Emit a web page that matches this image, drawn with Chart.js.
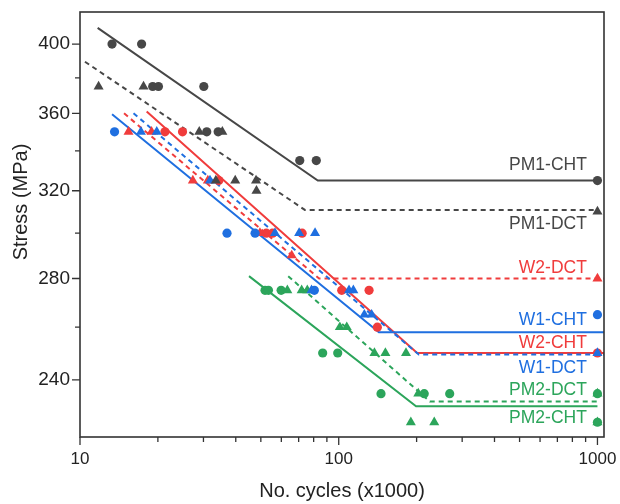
<!DOCTYPE html>
<html><head><meta charset="utf-8">
<script src="https://cdn.jsdelivr.net/npm/chart.js@4.4.1/dist/chart.umd.min.js"></script>
<style>html,body{margin:0;padding:0;background:#fff}#wrap{width:620px;height:504px;position:relative}</style>
</head><body><div id="wrap"><canvas id="c"></canvas></div>
<script>
// ---- tick values ----
const xMajorTicks = [10, 100, 1000];
const xMinorTicks = [20, 30, 40, 50, 60, 70, 80, 90, 200, 300, 400, 500, 600, 700, 800, 900];
const yMajorTicks = [240, 280, 320, 360, 400];
const yMinorTicks = [260, 300, 340, 380];

// ---- measured points: cycles (x1000) and stress (MPa) ----
const pm1ChtCycles = [13.3, 17.3, 19.1, 20.1, 30.1, 30.9, 34.2, 70.7, 81.9, 1000];
const pm1ChtStress = [400, 400, 375, 375, 375, 350, 350, 335, 335, 325];
const pm1DctCycles = [11.8, 17.6, 28.9, 35.5, 33.5, 39.8, 47.9, 48.1, 1000];
const pm1DctStress = [375, 375, 350, 350, 325, 325, 325, 320, 310];
const w1ChtCycles = [13.6, 37.0, 47.5, 80.5, 1000];
const w1ChtStress = [350, 300, 300, 275, 265];
const w1DctCycles = [17.2, 19.8, 31.8, 56.7, 70.3, 81.0, 78.5, 109.6, 113.9, 125.6, 134, 1000];
const w1DctStress = [350, 350, 325, 300, 300, 300, 275, 275, 275, 265, 265, 250];
const w2ChtCycles = [21.3, 24.9, 34.4, 52.5, 55.5, 72.2, 102.7, 131, 141, 1000];
const w2ChtStress = [350, 350, 325, 300, 300, 300, 275, 275, 260, 250];
const w2DctCycles = [15.4, 18.9, 27.3, 31.2, 49.6, 65.8, 1000];
const w2DctStress = [350, 350, 325, 325, 300, 290, 280];
const pm2ChtCycles = [51.9, 53.5, 59.9, 86.7, 99.1, 145.7, 214, 268.5, 1000, 1000];
const pm2ChtStress = [275, 275, 275, 250, 250, 235, 235, 235, 235, 225];
const pm2DctCycles = [63.3, 71.9, 75.6, 101, 107.4, 137.4, 151.5, 182, 203, 190, 234, 1000, 1000];
const pm2DctStress = [275, 275, 275, 260, 260, 250, 250, 250, 235, 225, 225, 235, 225];

// ---- fitted S-N curves (start, knee, end) ----
const pm1ChtFitCycles = [11.7, 83, 1000];
const pm1ChtFitStress = [410, 325, 325];
const pm1DctFitCycles = [10.45, 74, 1000];
const pm1DctFitStress = [389.4, 310.8, 310.8];
const w1ChtFitCycles = [13.3, 143, 1060];
const w1ChtFitStress = [359.5, 258, 258];
const w1DctFitCycles = [16.1, 204, 1060];
const w1DctFitStress = [360, 249.4, 249.4];
const w2ChtFitCycles = [18.1, 201, 1060];
const w2ChtFitStress = [361, 250, 250];
const w2DctFitCycles = [14.8, 84, 1060];
const w2DctFitStress = [360, 280, 280];
const pm2ChtFitCycles = [45, 199, 1000];
const pm2ChtFitStress = [281, 230.5, 230.5];
const pm2DctFitCycles = [63.8, 225, 1000];
const pm2DctFitStress = [281, 232.2, 232.2];

// ---- curve labels ----
const curveNames = ['PM1-CHT', 'PM1-DCT', 'W2-DCT', 'W1-CHT', 'W2-CHT', 'W1-DCT', 'PM2-DCT', 'PM2-CHT'];
const curveLabelStress = [332.9, 304.2, 284.6, 262.8, 253.7, 244.3, 236.4, 226.4];
const curveLabelCycles = 910;

const DARK = '#474747', RED = '#f03c3c', BLUE = '#1f6fe0', GREEN = '#2ca55b';
const curveColors = [DARK, DARK, RED, BLUE, RED, BLUE, GREEN, GREEN];
const FONT = '"Liberation Sans", Arial, sans-serif';

const toXY = (xs, ys) => xs.map((x, i) => ({x: x, y: ys[i]}));

function pts(label, xs, ys, color, style) {
  return {label, data: toXY(xs, ys), showLine: false, order: 0,
    pointStyle: style, pointRadius: style === 'triangle' ? 5.8 : 4.6,
    pointBackgroundColor: color, pointBorderColor: color, pointBorderWidth: 0};
}
function fit(label, xs, ys, color, dashed) {
  return {label, data: toXY(xs, ys), showLine: true, order: 10, pointRadius: 0,
    borderColor: color, borderWidth: 2, borderDash: dashed ? [5, 4] : [], fill: false, tension: 0};
}

const datasets = [
  fit('PM1-CHT fit', pm1ChtFitCycles, pm1ChtFitStress, DARK, false),
  fit('PM1-DCT fit', pm1DctFitCycles, pm1DctFitStress, DARK, true),
  fit('W1-CHT fit', w1ChtFitCycles, w1ChtFitStress, BLUE, false),
  fit('W1-DCT fit', w1DctFitCycles, w1DctFitStress, BLUE, true),
  fit('W2-CHT fit', w2ChtFitCycles, w2ChtFitStress, RED, false),
  fit('W2-DCT fit', w2DctFitCycles, w2DctFitStress, RED, true),
  fit('PM2-CHT fit', pm2ChtFitCycles, pm2ChtFitStress, GREEN, false),
  fit('PM2-DCT fit', pm2DctFitCycles, pm2DctFitStress, GREEN, true),
  pts('PM1-CHT', pm1ChtCycles, pm1ChtStress, DARK, 'circle'),
  pts('PM1-DCT', pm1DctCycles, pm1DctStress, DARK, 'triangle'),
  pts('W1-DCT', w1DctCycles, w1DctStress, BLUE, 'triangle'),
  pts('W1-CHT', w1ChtCycles, w1ChtStress, BLUE, 'circle'),
  pts('W2-DCT', w2DctCycles, w2DctStress, RED, 'triangle'),
  pts('W2-CHT', w2ChtCycles, w2ChtStress, RED, 'circle'),
  pts('PM2-DCT', pm2DctCycles, pm2DctStress, GREEN, 'triangle'),
  pts('PM2-CHT', pm2ChtCycles, pm2ChtStress, GREEN, 'circle')
];

const framePlugin = {
  id: 'frame',
  afterDraw(chart) {
    const {ctx, chartArea: a, scales: {x, y}} = chart;
    ctx.save();
    ctx.strokeStyle = '#333';
    ctx.lineWidth = 1.6;
    ctx.strokeRect(a.left, a.top, a.right - a.left, a.bottom - a.top);
    ctx.lineWidth = 1.3;
    ctx.beginPath();
    xMajorTicks.forEach(v => { const p = x.getPixelForValue(v); ctx.moveTo(p, a.bottom); ctx.lineTo(p, a.bottom + 8); });
    xMinorTicks.forEach(v => { const p = x.getPixelForValue(v); ctx.moveTo(p, a.bottom); ctx.lineTo(p, a.bottom + 5); });
    yMajorTicks.forEach(v => { const p = y.getPixelForValue(v); ctx.moveTo(a.left, p); ctx.lineTo(a.left - 8, p); });
    yMinorTicks.forEach(v => { const p = y.getPixelForValue(v); ctx.moveTo(a.left, p); ctx.lineTo(a.left - 5, p); });
    ctx.stroke();
    // curve labels
    ctx.font = '17.5px ' + FONT;
    ctx.textAlign = 'right';
    ctx.textBaseline = 'middle';
    const lx = x.getPixelForValue(curveLabelCycles);
    curveNames.forEach((n, i) => {
      ctx.fillStyle = curveColors[i];
      ctx.fillText(n, lx, y.getPixelForValue(curveLabelStress[i]));
    });
    // y axis title (sits above the axis centre in the reference)
    ctx.save();
    ctx.translate(21, 202);
    ctx.rotate(-Math.PI / 2);
    ctx.font = '20px ' + FONT;
    ctx.fillStyle = '#222';
    ctx.textAlign = 'center';
    ctx.fillText('Stress (MPa)', 0, 0);
    ctx.restore();
    ctx.restore();
  }
};

const zeroPad = s => { s.paddingTop = 0; s.paddingBottom = 0; s.paddingLeft = 0; s.paddingRight = 0; };

new Chart(document.getElementById('c'), {
  type: 'scatter',
  data: {datasets},
  options: {
    responsive: true, maintainAspectRatio: false, animation: false, events: [],
    layout: {padding: {top: 12, right: 16, left: 0, bottom: 0}},
    plugins: {legend: {display: false}, tooltip: {enabled: false}},
    scales: {
      x: {
        type: 'logarithmic', position: 'bottom', min: 10, max: 1060,
        afterBuildTicks: s => { s.ticks = xMajorTicks.map(v => ({value: v})); },
        afterFit: s => { s.height = 67; zeroPad(s); },
        grid: {display: false, drawTicks: false},
        border: {display: false},
        ticks: {autoSkip: false, maxRotation: 0, padding: 12, color: '#222',
          font: {family: FONT, size: 17}, callback: v => String(v)},
        title: {display: true, text: 'No. cycles (x1000)', color: '#222',
          font: {family: FONT, size: 20, lineHeight: 1.2}, padding: {top: 0, bottom: 1}}
      },
      y: {
        type: 'logarithmic', position: 'left', min: 220, max: 420,
        afterBuildTicks: s => { s.ticks = yMajorTicks.map(v => ({value: v})); },
        afterFit: s => { s.width = 80; zeroPad(s); },
        grid: {display: false, drawTicks: false},
        border: {display: false},
        ticks: {autoSkip: false, padding: 10, color: '#222',
          font: {family: FONT, size: 19}, callback: v => String(v)},
        title: {display: false}
      }
    }
  },
  plugins: [framePlugin]
});
</script>
</body></html>
